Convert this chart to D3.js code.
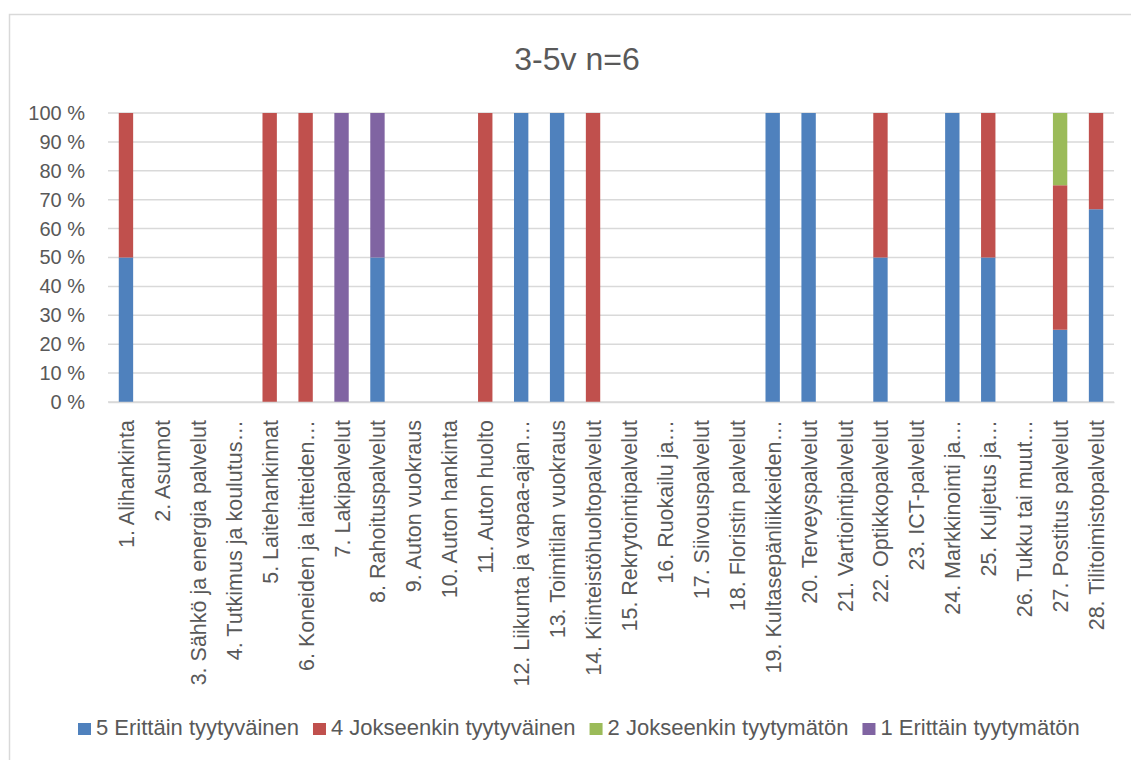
<!DOCTYPE html>
<html>
<head>
<meta charset="utf-8">
<script src="https://cdn.jsdelivr.net/npm/d3@7"></script>
<style>
  body { margin: 0; background: #fff; }
  text { font-family: "Liberation Sans", Arial, sans-serif; fill: #595959; }
</style>
</head>
<body>
<svg id="chart" width="1131" height="760"></svg>
<script>
// categories (x axis labels, already cut like in the original)
const categories = [
  "1. Alihankinta", "2. Asunnot", "3. Sähkö ja energia palvelut", "4. Tutkimus ja koulutus…",
  "5. Laitehankinnat", "6. Koneiden ja laitteiden…", "7. Lakipalvelut", "8. Rahoituspalvelut",
  "9. Auton vuokraus", "10. Auton hankinta", "11. Auton huolto", "12. Liikunta ja vapaa-ajan…",
  "13. Toimitilan vuokraus", "14. Kiinteistöhuoltopalvelut", "15. Rekrytointipalvelut", "16. Ruokailu ja…",
  "17. Siivouspalvelut", "18. Floristin palvelut", "19. Kultasepänliikkeiden…", "20. Terveyspalvelut",
  "21. Vartiointipalvelut", "22. Optikkopalvelut", "23. ICT-palvelut", "24. Markkinointi ja…",
  "25. Kuljetus ja…", "26. Tukku tai muut…", "27. Postitus palvelut", "28. Tilitoimistopalvelut"
];

// shares in percent, one value per category
const erittainTyytyvainen   = [50,0,0,0, 0,0,0,50, 0,0,0,100, 100,0,0,0, 0,0,100,100, 0,50,0,100, 50,0,25,66.7];
const jokseenkinTyytyvainen = [50,0,0,0, 100,100,0,0, 0,0,100,0, 0,100,0,0, 0,0,0,0, 0,50,0,0, 50,0,50,33.3];
const jokseenkinTyytymaton  = [0,0,0,0, 0,0,0,0, 0,0,0,0, 0,0,0,0, 0,0,0,0, 0,0,0,0, 0,0,25,0];
const erittainTyytymaton    = [0,0,0,0, 0,0,100,50, 0,0,0,0, 0,0,0,0, 0,0,0,0, 0,0,0,0, 0,0,0,0];

const seriesNames = ["5 Erittäin tyytyväinen", "4 Jokseenkin tyytyväinen", "2 Jokseenkin tyytymätön", "1 Erittäin tyytymätön"];
const seriesColors = ["#4F81BD", "#C0504D", "#9BBB59", "#8064A2"];
const yTicks = [0, 10, 20, 30, 40, 50, 60, 70, 80, 90, 100];

const svg = d3.select("#chart");

// chart frame
svg.append("rect")
  .attr("x", 9.5).attr("y", 14.5)
  .attr("width", 1160).attr("height", 800)
  .attr("fill", "none").attr("stroke", "#D9D9D9").attr("stroke-width", 1.5);

svg.append("text")
  .attr("x", 577).attr("y", 70)
  .attr("text-anchor", "middle")
  .style("font-size", "32px")
  .text("3-5v n=6");

const plot = { left: 108, right: 1114, top: 113, bottom: 402 };

const x = d3.scaleBand()
  .domain(categories)
  .range([plot.left, plot.right])
  .paddingInner(0.6)
  .paddingOuter(0.3);

const y = d3.scaleLinear().domain([0, 100]).range([plot.bottom, plot.top]);

// gridlines
svg.append("g")
  .selectAll("line")
  .data(yTicks)
  .join("line")
  .attr("x1", plot.left).attr("x2", plot.right)
  .attr("y1", d => y(d)).attr("y2", d => y(d))
  .attr("stroke", "#D9D9D9").attr("stroke-width", 1.5);

// y axis labels
const yAxis = svg.append("g")
  .attr("transform", `translate(${plot.left - 23},0)`)
  .call(d3.axisLeft(y).tickValues(yTicks).tickSize(0).tickPadding(0).tickFormat(d => d + " %"));
yAxis.select(".domain").remove();
yAxis.selectAll("text").style("font-size", "20px").attr("fill", "#595959");

// stacked bars
const rows = categories.map((c, i) => ({
  cat: c,
  s5: erittainTyytyvainen[i],
  s4: jokseenkinTyytyvainen[i],
  s2: jokseenkinTyytymaton[i],
  s1: erittainTyytymaton[i]
}));
const keys = ["s5", "s4", "s2", "s1"];
const stacked = d3.stack().keys(keys)(rows);

svg.append("g")
  .selectAll("g")
  .data(stacked)
  .join("g")
  .attr("fill", (d, i) => seriesColors[i])
  .selectAll("rect")
  .data(d => d)
  .join("rect")
  .attr("x", d => x(d.data.cat))
  .attr("y", d => y(d[1]))
  .attr("width", x.bandwidth())
  .attr("height", d => y(d[0]) - y(d[1]));

// x axis
const xAxis = svg.append("g")
  .attr("transform", `translate(0,${plot.bottom})`)
  .call(d3.axisBottom(x).tickSize(0).tickPadding(0));
xAxis.select(".domain").attr("stroke", "#D9D9D9").attr("stroke-width", 1.5);
xAxis.selectAll("text")
  .attr("fill", "#595959")
  .style("font-size", "21.5px")
  .attr("text-anchor", "end")
  .attr("dy", null)
  .attr("x", 0).attr("y", 8)
  .attr("transform", "translate(0,18) rotate(-90)");

// legend
const legend = svg.append("g").attr("transform", "translate(78,723)");
let lx = 0;
seriesNames.forEach((name, i) => {
  const item = legend.append("g").attr("transform", `translate(${lx},0)`);
  item.append("rect").attr("width", 13).attr("height", 12).attr("fill", seriesColors[i]);
  const t = item.append("text")
    .attr("x", 18).attr("y", 12)
    .style("font-size", "22px")
    .text(name);
  lx += 18 + t.node().getComputedTextLength() + 14;
});
</script>
</body>
</html>
